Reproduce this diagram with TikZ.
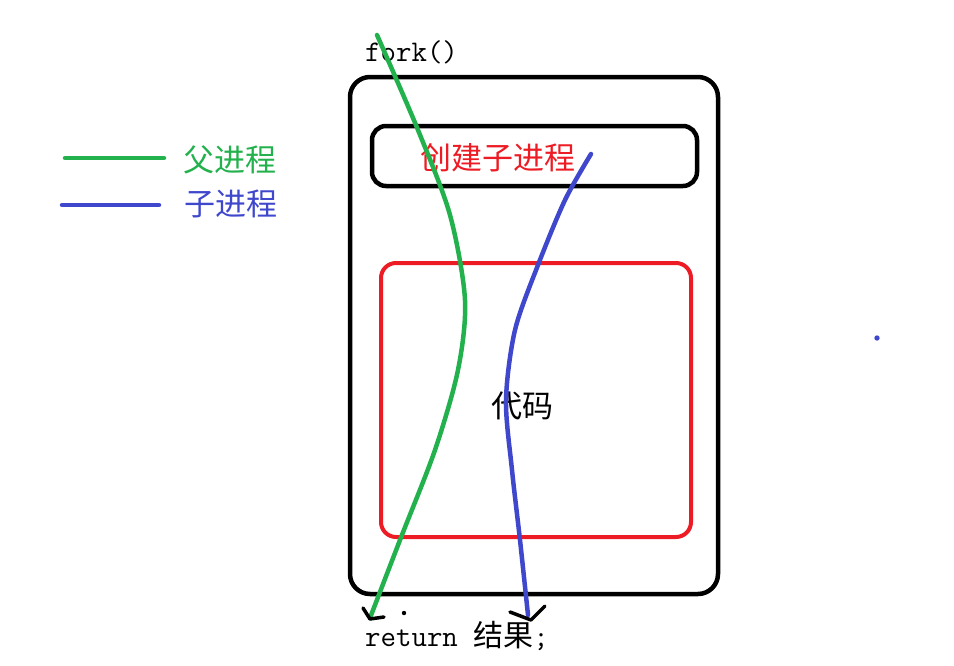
\documentclass[tikz,border=0pt]{standalone}
\usepackage{fontspec}
\newfontfamily\cjk{Noto Sans CJK SC}
\definecolor{pgreen}{HTML}{22B14C}
\definecolor{pblue}{HTML}{3F48CC}
\definecolor{pred}{HTML}{ED1C24}
\tikzset{
  frame/.style={draw,line width=4.5pt,rounded corners=20pt},
  codebox/.style={draw=pred,line width=4pt,rounded corners=15pt},
  path line/.style={line width=4.5pt,line cap=round},
  tip/.style={line width=3.5pt,line cap=round,line join=round},
  lbl/.style={font=\fontsize{31}{34}\selectfont\cjk,inner sep=0pt},
  code/.style={font=\fontsize{30}{34}\selectfont\ttfamily,inner sep=0pt},
}

\begin{document}
\begin{tikzpicture}[x=1pt,y=-1pt]
      \useasboundingbox (0,0) rectangle (954,665);

      % boxes
      \draw[frame] (350,77) rectangle (718,594);
      \draw[line width=4.5pt,rounded corners=14pt] (372,126) rectangle (697,186);
      \draw[codebox] (381,263) rectangle (691,537);

      % texts
      \node[code,anchor=west] (fork) at (365,52) {fork()};
      \node[lbl,text=pred] (create) at (498,158) {创建子进程};
      \node[lbl] (code) at (522,406) {代码};
      \node[anchor=west,inner sep=0pt] (ret) at (365,636)
        {\fontsize{30}{34}\selectfont\ttfamily return {\cjk 结果};};

      % parent and child
      \draw[path line,pgreen] plot[smooth] coordinates {(377,35) (418,130) (450,215) (465,300) (458,370) (435,450) (400,540) (370,618)};
      \draw[path line,pblue] plot[smooth] coordinates {(591,154) (565,200) (538,265) (515,330) (506,400) (512,470) (520,540) (528,615)};

      % arrow tips
      \draw[tip] (363,608) -- (370,619) -- (384,617);
      \draw[tip] (510,612) -- (531,620) -- (545,606);
      \fill (404,613) circle (2.2pt);

      % legend
      \draw[path line,pgreen] (65,158) -- (164,158);
      \node[lbl,text=pgreen,anchor=west] (parent) at (183,160) {父进程};
      \draw[path line,pblue] (62,205) -- (159,205);
      \node[lbl,text=pblue,anchor=west] (child) at (184,204) {子进程};

      \fill[pblue] (877,338) circle (2.7pt);
    \end{tikzpicture}
\end{document}
